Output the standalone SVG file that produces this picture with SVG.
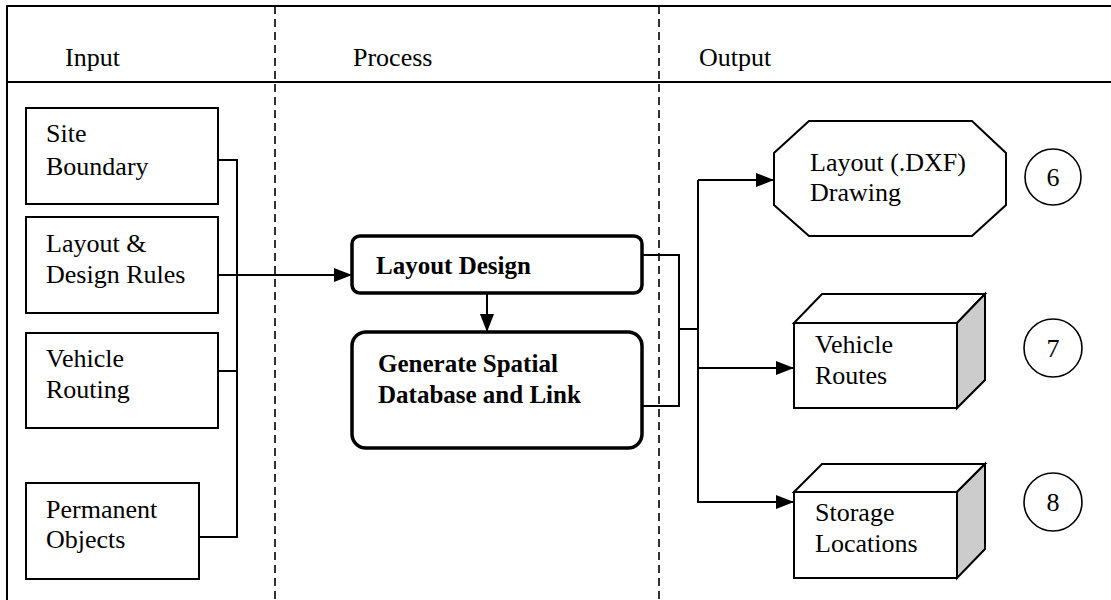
<svg xmlns="http://www.w3.org/2000/svg" width="1111" height="600" viewBox="0 0 1111 600">
  <style>
    text { font-family: "Liberation Serif", "Times New Roman", serif; font-size: 26px; fill: #000; }
    .bold { font-weight: bold; font-size: 25px; }
    .frame { fill: none; stroke: #000; stroke-width: 2; }
    .lane { fill: none; stroke: #000; stroke-width: 1.6; stroke-dasharray: 8 5; }
    .box { fill: #fff; stroke: #000; stroke-width: 2; }
    .proc { fill: #fff; stroke: #000; stroke-width: 3.5; }
    .side { fill: #cccccc; stroke: #000; stroke-width: 2; }
    .wire { fill: none; stroke: #000; stroke-width: 2; }
    .num { fill: #fff; stroke: #000; stroke-width: 1.6; }
  </style>
  <defs>
    <marker id="arrow" markerUnits="userSpaceOnUse" markerWidth="18" markerHeight="14" refX="18" refY="7" orient="auto">
      <path d="M0,0 L18,7 L0,14 Z" fill="#000"/>
    </marker>
  </defs>

  <!-- swimlane frame -->
  <g id="frame">
    <path class="frame" d="M1111,6 H7 V600"/>
    <line class="frame" x1="7" y1="82" x2="1111" y2="82"/>
    <line class="lane" x1="275" y1="6" x2="275" y2="600"/>
    <line class="lane" x1="659" y1="6" x2="659" y2="600"/>
    <text x="65" y="66">Input</text>
    <text x="353" y="66">Process</text>
    <text x="699" y="66">Output</text>
  </g>

  <!-- connectors -->
  <g id="connectors">
    <path class="wire" d="M218,160 H237 V537 H199"/>
    <line class="wire" x1="218" y1="371" x2="237" y2="371"/>
    <line class="wire" x1="218" y1="275" x2="352" y2="275" marker-end="url(#arrow)"/>
    <line class="wire" x1="487" y1="293" x2="487" y2="332" marker-end="url(#arrow)"/>
    <path class="wire" d="M642,255 H679 V406 H642"/>
    <line class="wire" x1="679" y1="329" x2="698" y2="329"/>
    <path class="wire" d="M698,180 V502 H794" marker-end="url(#arrow)"/>
    <line class="wire" x1="698" y1="180" x2="774" y2="180" marker-end="url(#arrow)"/>
    <line class="wire" x1="698" y1="368" x2="794" y2="368" marker-end="url(#arrow)"/>
  </g>

  <!-- inputs -->
  <g id="site-boundary">
    <rect class="box" x="26" y="108" width="192" height="96"/>
    <text x="46" y="142">Site</text>
    <text x="46" y="175">Boundary</text>
  </g>
  <g id="layout-design-rules">
    <rect class="box" x="26" y="217" width="192" height="96"/>
    <text x="46" y="252">Layout &amp;</text>
    <text x="46" y="283">Design Rules</text>
  </g>
  <g id="vehicle-routing">
    <rect class="box" x="26" y="333" width="192" height="95"/>
    <text x="46" y="367">Vehicle</text>
    <text x="46" y="398">Routing</text>
  </g>
  <g id="permanent-objects">
    <rect class="box" x="26" y="483" width="173" height="96"/>
    <text x="46" y="518">Permanent</text>
    <text x="46" y="548">Objects</text>
  </g>

  <!-- process steps -->
  <g id="layout-design">
    <rect class="proc" x="352" y="236" width="290" height="57" rx="8"/>
    <text class="bold" x="376" y="274">Layout Design</text>
  </g>
  <g id="generate-spatial-db">
    <rect class="proc" x="352" y="332" width="290" height="116" rx="14"/>
    <text class="bold" x="378" y="372">Generate Spatial</text>
    <text class="bold" x="378" y="403">Database and Link</text>
  </g>

  <!-- outputs -->
  <g id="layout-dxf-drawing">
    <polygon class="box" points="809,121 972,121 1006,153 1006,205 972,236 809,236 774,205 774,153"/>
    <text x="810" y="171">Layout (.DXF)</text>
    <text x="810" y="201">Drawing</text>
    <circle class="num" cx="1053" cy="177" r="28"/>
    <text x="1053" y="186" text-anchor="middle">6</text>
  </g>
  <g id="vehicle-routes">
    <polygon class="box" points="794,323 822,294 985,294 957,323"/>
    <polygon class="side" points="957,323 985,294 985,380 957,408"/>
    <rect class="box" x="794" y="323" width="163" height="85"/>
    <text x="815" y="353">Vehicle</text>
    <text x="815" y="384">Routes</text>
    <circle class="num" cx="1053" cy="348" r="29"/>
    <text x="1053" y="357" text-anchor="middle">7</text>
  </g>
  <g id="storage-locations">
    <polygon class="box" points="794,492 822,464 985,464 957,492"/>
    <polygon class="side" points="957,492 985,464 985,549 957,578"/>
    <rect class="box" x="794" y="492" width="163" height="86"/>
    <text x="815" y="521">Storage</text>
    <text x="815" y="552">Locations</text>
    <circle class="num" cx="1053" cy="502" r="29"/>
    <text x="1053" y="511" text-anchor="middle">8</text>
  </g>
</svg>
